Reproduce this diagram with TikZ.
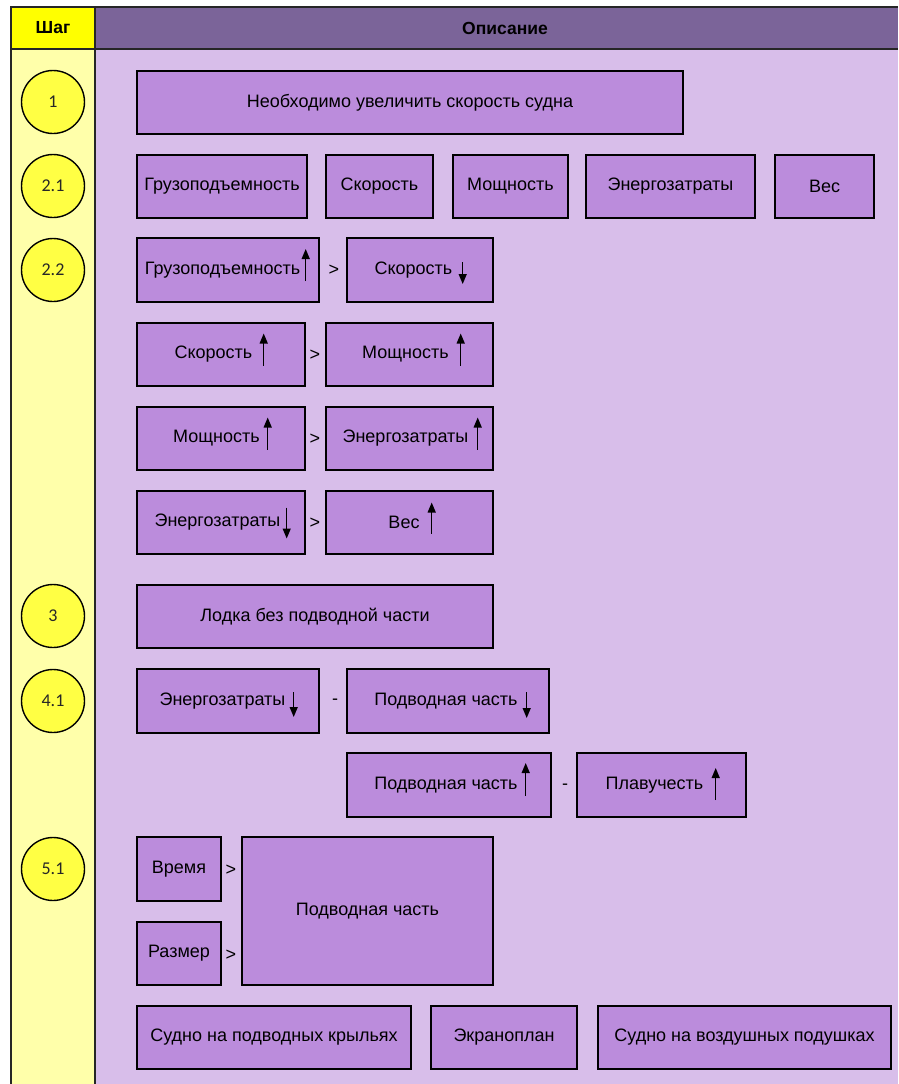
\documentclass[tikz,border=0pt]{standalone}
\usepackage{fontspec}
\setmainfont{Liberation Sans}
\newfontfamily\calib{Carlito}
\usetikzlibrary{arrows.meta,calc}
\definecolor{hdrY}{HTML}{FFFF00}
\definecolor{hdrP}{HTML}{7B6499}
\definecolor{colY}{HTML}{FFFFAA}
\definecolor{bodyP}{HTML}{D8BEEA}
\definecolor{boxP}{HTML}{BB8CDC}
\definecolor{circY}{HTML}{FFFF44}
\newcommand\bx[7][]{\node[bx,#1,minimum width={#5pt-#3pt},minimum height={#6pt-#4pt}] (#2) at ({(#3+#5)/2},{(#4+#6)/2}) {#7};}
\newcommand\uparr[4]{\draw[arr] ($(#1.east)+(#2,#4)$) -- ($(#1.east)+(#2,#3)$);}
\newcommand\dnarr[4]{\draw[arr] ($(#1.east)+(#2,#3)$) -- ($(#1.east)+(#2,#4)$);}
\newcommand\gap[1]{\kern#1pt\relax}
\begin{document}
\begin{tikzpicture}[x=1pt,y=-1pt,
  bx/.style={draw=black,line width=1.4pt,fill=boxP,inner sep=0pt,font=\fontsize{18}{21}\selectfont},
  circ/.style={circle,draw=black,line width=1.4pt,fill=circY,minimum size=63pt,inner sep=0pt,font=\calib\fontsize{18}{21}\selectfont,text=black!85},
  sepsym/.style={inner sep=0pt,font=\fontsize{18}{21}\selectfont},
  hdrtxt/.style={inner sep=0pt,font=\bfseries\fontsize{17.5}{20}\selectfont},
  arr/.style={line width=1.3pt,-{Triangle[width=8pt,length=10pt]}},
  tline/.style={line width=1.3pt,draw=black!85}]
\useasboundingbox (0,0) rectangle (898,1084);
% table background
\fill[white] (0,0) rectangle (898,1084);
\fill[hdrY] (11,7) rectangle (95,49);
\fill[hdrP] (95,7) rectangle (898,49);
\fill[colY] (11,49) rectangle (95,1084);
\fill[bodyP] (95,49) rectangle (898,1084);
\draw[tline] (11,1084) -- (11,7) -- (898,7);
\draw[tline] (11,49) -- (898,49);
\draw[tline] (95,7) -- (95,1084);
\node[hdrtxt] (hstep) at (53,28) {Шаг};
\node[hdrtxt] (hdesc) at (505,28) {Описание};
% step circles
\node[circ] (c1) at (53,102) {1};
\node[circ] (c21) at (53,186) {2.1};
\node[circ] (c22) at (53,270) {2.2};
\node[circ] (c3) at (53,616) {3};
\node[circ] (c41) at (53,701) {4.1};
\node[circ] (c51) at (53,869) {5.1};
% step 1
\bx{b1}{137}{71}{683}{134}{Необходимо увеличить скорость судна}
% step 2.1
\bx{r1}{137}{155}{307}{218}{Грузоподъемность}
\bx{r2}{326}{155}{433}{218}{Скорость}
\bx{r3}{453}{155}{568}{218}{Мощность}
\bx{r4}{586}{155}{755}{218}{Энергозатраты}
\bx{r5}{775}{155}{874}{218}{Вес}
% step 2.2
\bx{a1}{137}{238}{319}{302}{Грузоподъемность\gap{11}}
\node[sepsym] (sa) at (334,270) {>};
\bx{a2}{347}{238}{493}{302}{Скорость\gap{13}}
\uparr{a1}{-14}{-21}{11}
\dnarr{a2}{-31}{-8}{14}
\bx{b1l}{137}{323}{305}{386}{Скорость\gap{15}}
\node[sepsym] (sb) at (315,355) {>};
\bx{b1r}{326}{323}{493}{386}{Мощность\gap{8}}
\uparr{b1l}{-42}{-21}{11}
\uparr{b1r}{-33}{-21}{11}
\bx{c1l}{137}{407}{305}{470}{Мощность\gap{9}}
\node[sepsym] (sc) at (315,439) {>};
\bx{c1r}{326}{407}{493}{470}{Энергозатраты\gap{8}}
\uparr{c1l}{-38}{-21}{11}
\uparr{c1r}{-16}{-21}{11}
\bx{d1l}{137}{491}{305}{554}{Энергозатраты\gap{7}}
\node[sepsym] (sd) at (315,523) {>};
\bx{d1r}{326}{491}{493}{554}{Вес\gap{11}}
\dnarr{d1l}{-19}{-15}{16}
\uparr{d1r}{-62}{-20}{11}
% step 3
\bx{s3}{137}{585}{493}{648}{Лодка без подводной части}
% step 4.1
\bx{e1}{137}{669}{319}{733}{Энергозатраты\gap{11}}
\node[sepsym] (se) at (335,702) {-};
\bx{e2}{347}{669}{549}{733}{Подводная часть\gap{4}}
\dnarr{e1}{-26}{-9}{16}
\dnarr{e2}{-23}{-9}{17}
\bx{f1}{347}{753}{551}{817}{Подводная часть\gap{6}}
\node[sepsym] (sf) at (565,787) {-};
\bx{f2}{577}{753}{746}{817}{Плавучесть\gap{14}}
\uparr{f1}{-26}{-22}{11}
\uparr{f2}{-31}{-17}{15}
% step 5.1
\bx{g1}{137}{837}{221}{901}{Время}
\bx{g2}{137}{922}{221}{985}{Размер}
\bx{g3}{242}{837}{493}{985}{Подводная часть}
\node[sepsym] (sg1) at (231,870) {>};
\node[sepsym] (sg2) at (231,955) {>};
% results
\bx{h1}{137}{1006}{411}{1069}{Судно на подводных крыльях}
\bx{h2}{431}{1006}{577}{1069}{Экраноплан}
\bx{h3}{598}{1006}{891}{1069}{Судно на воздушных подушках}
\end{tikzpicture}
\end{document}
